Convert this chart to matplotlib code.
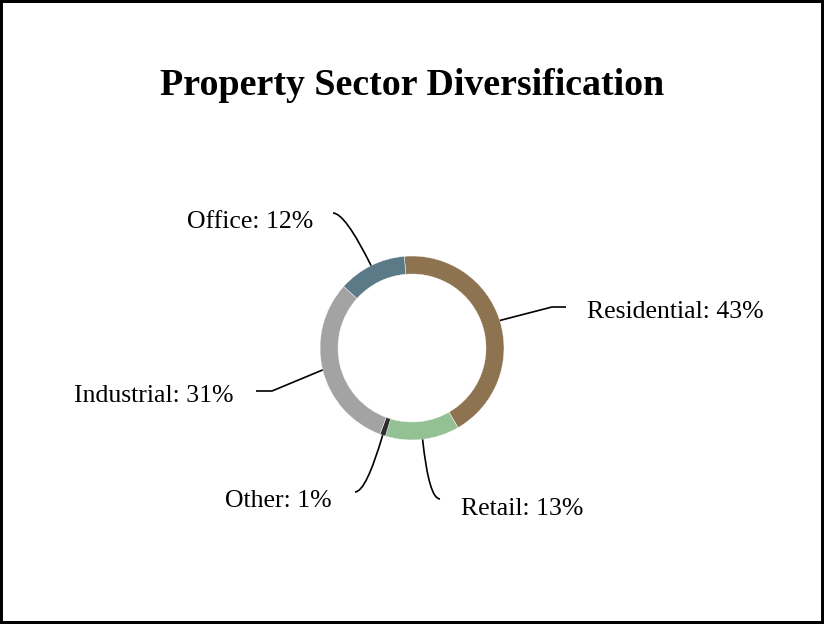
import matplotlib
matplotlib.use("Agg")
import numpy as np
import matplotlib.pyplot as plt
from matplotlib.patches import Rectangle, PathPatch
from matplotlib.path import Path

plt.rcParams['font.family'] = ['Liberation Serif', 'DejaVu Serif']

sectors = ['Residential', 'Retail', 'Other', 'Industrial', 'Office']
shares = [43, 13, 1, 31, 12]
colors = ['#8e7350', '#93c193', '#2e2e2e', '#a3a3a3', '#5b7a87']

W, H = 824, 624
fig = plt.figure(figsize=(W / 100, H / 100), dpi=100)
ax = fig.add_axes([0, 0, 1, 1])

# donut, in pixel units (y measured upward)
cx, cy = 412, H - 348
R = 92
wedges, _ = ax.pie(shares, colors=colors, startangle=94.8, counterclock=False,
                   center=(cx, cy), radius=R,
                   wedgeprops=dict(width=18, edgecolor='white', linewidth=0.3))
ax.set_xlim(0, W)
ax.set_ylim(0, H)
ax.set_aspect('equal')
ax.axis('off')

# label placement, pixel coords measured from the top
label_layout = {
    'Residential': dict(elbow=(552, 307), end_x=566, text=(587, 318), ha='left', smooth=False),
    'Retail': dict(elbow=(429, 499), end_x=440, text=(461, 515), ha='left', smooth=True),
    'Other': dict(elbow=(366, 492), end_x=355, text=(332, 507), ha='right', smooth=True),
    'Industrial': dict(elbow=(272, 391), end_x=256, text=(234, 402), ha='right', smooth=False),
    'Office': dict(elbow=(345, 213), end_x=333, text=(313, 228), ha='right', smooth=True),
}

for w, name, val in zip(wedges, sectors, shares):
    mid = np.deg2rad((w.theta1 + w.theta2) / 2)
    start = (cx + R * np.cos(mid), cy + R * np.sin(mid))
    lay = label_layout[name]
    elbow = (lay['elbow'][0], H - lay['elbow'][1])
    end = (lay['end_x'], elbow[1])
    if lay['smooth']:
        path = Path([start, elbow, end], [Path.MOVETO, Path.CURVE3, Path.CURVE3])
    else:
        path = Path([start, elbow, end], [Path.MOVETO, Path.LINETO, Path.LINETO])
    ax.add_patch(PathPatch(path, fill=False, edgecolor='black', linewidth=1.2))
    tx, ty = lay['text']
    ax.text(tx, H - ty, f"{name}: {val}%", ha=lay['ha'], va='baseline',
            fontsize=18.5, color='black')

ax.text(W / 2, H - 95, "Property Sector Diversification", ha='center', va='baseline',
        fontsize=27.3, fontweight='bold', color='black')

# outer frame
fig.patches.append(Rectangle((0, 0), 1, 1, transform=fig.transFigure, fill=False,
                             edgecolor='black', linewidth=4.3))

fig.savefig('out.png', dpi=100, facecolor='white')
